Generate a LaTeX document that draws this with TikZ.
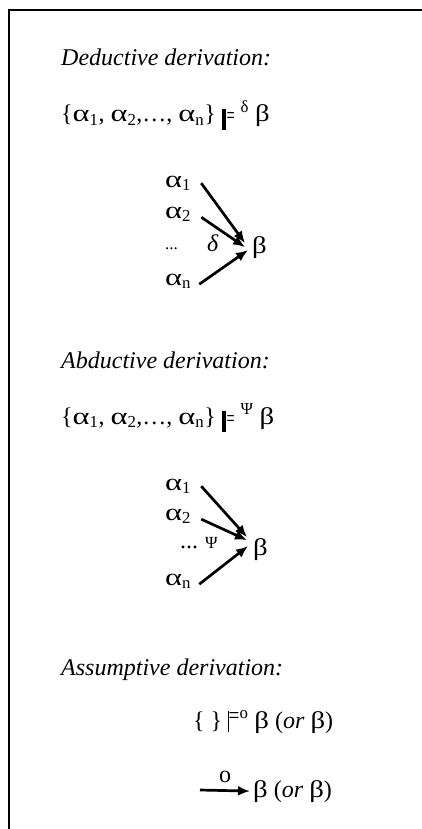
\documentclass[tikz,border=0pt]{standalone}
\usepackage{fontspec}
\setmainfont{Liberation Serif}
\usetikzlibrary{arrows.meta,positioning}

\newcommand{\al}{\scalebox{1.35}[1]{α}}
\newcommand{\be}{\scalebox{1.2}[1]{β}}
\newcommand{\thickmodels}{\rule[-8pt]{4.5pt}{21pt}\kern0.2pt\raisebox{-2pt}{\scalebox{0.6}[1]{=}}}
\newcommand{\thinmodels}{\rule[-4pt]{1.1pt}{21pt}\kern-0.6pt\raisebox{5pt}{\scalebox{0.8}[1]{=}}}

\begin{document}
\begin{tikzpicture}[x=1pt,y=-1pt,
  every node/.style={inner sep=0pt,anchor=base west,font=\fontsize{24}{28}\selectfont},
  head/.style={font=\fontsize{24}{28}\selectfont\itshape},
  small/.style={font=\fontsize{17}{20}\selectfont},
  arr/.style={line width=2.7pt,-{Latex[length=12pt,width=10pt]}}]
\useasboundingbox (0,0) rectangle (422,829);
\draw[line width=2pt] (9,829) -- (9,10) -- (422,10);

% deductive
\node[head] (hded) at (61,66) {Deductive derivation:};
\node (fded) at (61,122) {\{\al\textsubscript{1}, \al\textsubscript{2},…, \al\textsubscript{n}\} \thickmodels\ \textsuperscript{δ}\ \be};
\node (a11) at (165,187) {\al\textsubscript{1}};
\node (a12) at (165,218) {\al\textsubscript{2}};
\node[small] (dots1) at (165,249) {...};
\node[font=\fontsize{24}{28}\selectfont\itshape] (lab1) at (207,251) {δ};
\node (b1) at (252,253) {\be};
\node (a1n) at (165,285) {\al\textsubscript{n}};
\draw[arr] ([xshift=10pt]a11.east) -- ([shift={(-7,-4)}]b1.west);
\draw[arr] ([shift={(10,3)}]a12.east) -- ([shift={(-7,0)}]b1.west);
\draw[arr] ([shift={(8,3)}]a1n.east) -- ([shift={(-4,3)}]b1.west);

% abductive
\node[head] (habd) at (61,368) {Abductive derivation:};
\node (fabd) at (61,424) {\{\al\textsubscript{1}, \al\textsubscript{2},…, \al\textsubscript{n}\} \thickmodels\ \textsuperscript{Ψ}\ \be};
\node (a21) at (165,490) {\al\textsubscript{1}};
\node (a22) at (165,520) {\al\textsubscript{2}};
\node (dots2) at (180,548) {...};
\node[small] (lab2) at (205,548) {Ψ};
\node (b2) at (253,555) {\be};
\node (a2n) at (165,585) {\al\textsubscript{n}};
\draw[arr] ([xshift=10pt]a21.east) -- ([shift={(-6,-12)}]b2.west);
\draw[arr] ([shift={(10,3)}]a22.east) -- ([shift={(-6,-9)}]b2.west);
\draw[arr] ([shift={(8,3)}]a2n.east) -- ([shift={(-5,-3)}]b2.west);

% assumptive
\node[head] (hass) at (61,675) {Assumptive derivation:};
\node (fass) at (193,728) {\{ \} \thinmodels\textsuperscript{o}\ \be\ (\textit{or} \be)};
\node (b4) at (253,797) {\be\ (\textit{or} \be)};
\coordinate (s4) at (200,790);
\draw[arr] (s4) -- ([xshift=-3pt]b4.west) node[midway,above=6pt,anchor=south] {o};
\end{tikzpicture}
\end{document}
